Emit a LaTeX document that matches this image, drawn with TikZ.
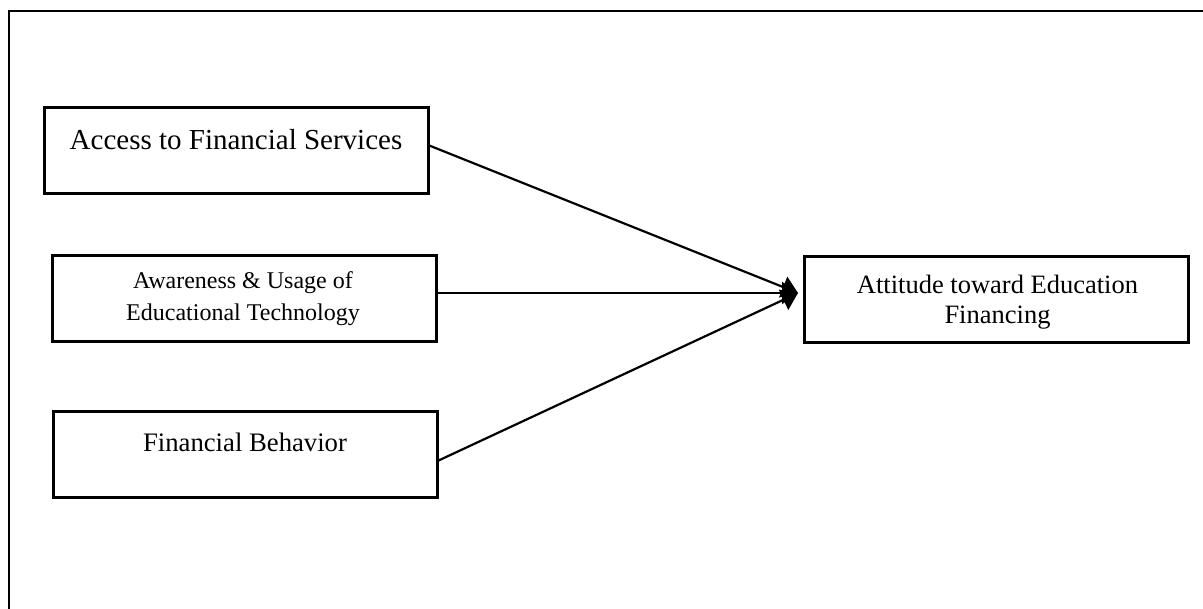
\documentclass[tikz,border=0pt]{standalone}
\usepackage{fontspec}
\setmainfont{Liberation Serif}
\usetikzlibrary{arrows.meta}
\begin{document}
\begin{tikzpicture}[x=1pt,y=-1pt,
  boxnode/.style={draw,line width=3pt,minimum width=384pt,minimum height=86pt,inner sep=0pt,outer sep=0pt},
  txt/.style={inner sep=0pt,align=center},
  conn/.style={line width=2.2pt,-{Triangle[length=16pt,width=22pt]}}]
\useasboundingbox (0,0) rectangle (1203,609);
\draw[line width=2pt] (9,620) -- (9,11) -- (1215,11);
\node[boxnode] (b1) at (236,151) {};
\node[boxnode] (b2) at (244.5,299) {};
\node[boxnode] (b3) at (996.5,300) {};
\node[boxnode] (b4) at (245.5,455) {};
\node[txt,font=\fontsize{29}{34}\selectfont] (t1) at (236,140) {Access to Financial Services};
\node[txt,font=\fontsize{24}{32}\selectfont] (t2) at (243,299) {Awareness \& Usage of\\Educational Technology};
\node[txt,font=\fontsize{26.5}{30}\selectfont] (t3) at (997.5,302) {Attitude toward Education\\Financing};
\node[txt,font=\fontsize{26.7}{31}\selectfont] (t4) at (245,442) {Financial Behavior};
\coordinate (tip) at (798,293);
\draw[conn] ([yshift=6pt]b1.east) -- (tip);
\draw[conn] ([yshift=6pt]b2.east) -- (tip);
\draw[conn] ([yshift=-6pt]b4.east) -- (tip);
\end{tikzpicture}
\end{document}
